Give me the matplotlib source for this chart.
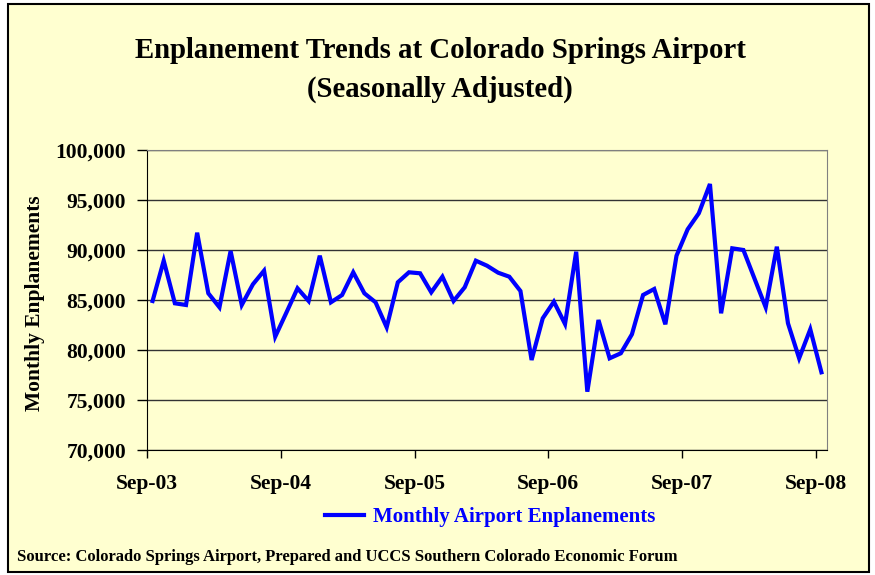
import matplotlib.pyplot as plt
from matplotlib.patches import Rectangle
from matplotlib.ticker import FuncFormatter

# monthly, Sep-03 .. Sep-08 (61 months)
enplanements = [
    84900, 88930, 84670, 84500, 91730, 85670, 84270, 89900, 84500, 86570,
    87930, 81330, 83730, 86170, 84900, 89430, 84770, 85500, 87770, 85670,
    84770, 82270, 86770, 87770, 87670, 85770, 87330, 84900, 86270, 88930,
    88430, 87730, 87330, 85900, 79000, 83170, 84830, 82600, 89830, 75830,
    83000, 79170, 79670, 81570, 85500, 86100, 82570, 89430, 92070, 93670,
    96600, 83670, 90170, 90000, 87130, 84270, 90330, 82670, 79170, 82070,
    77770,
]
tick_labels = ["Sep-03", "Sep-04", "Sep-05", "Sep-06", "Sep-07", "Sep-08"]
y_ticks = [70000, 75000, 80000, 85000, 90000, 95000, 100000]

bg = "#FFFFD0"
font = "Liberation Serif"

fig = plt.figure(figsize=(8.75, 5.75), dpi=100)
fig.patch.set_facecolor("white")
fig.patches.append(Rectangle((8 / 875, 3 / 575), 861 / 875, 568 / 575,
                             transform=fig.transFigure, facecolor=bg,
                             edgecolor="black", linewidth=1.5, zorder=-10))

ax = fig.add_axes([147 / 875, 1 - 450 / 575, 680 / 875, 300 / 575])
ax.set_facecolor(bg)

x = [i + 0.5 for i in range(len(enplanements))]
line, = ax.plot(x, enplanements, color="#0000FF", linewidth=3,
                label="Monthly Airport Enplanements", solid_joinstyle="miter")

ax.set_xlim(0, len(enplanements))
ax.set_ylim(70000, 100000)
ax.set_yticks(y_ticks)
ax.yaxis.set_major_formatter(FuncFormatter(lambda v, p: f"{int(v):,}"))
ax.set_xticks(range(0, 61, 12))
ax.set_xticklabels(tick_labels)
ax.grid(axis="y", color="#333333", linewidth=1)
ax.set_axisbelow(True)

for lbl in ax.get_yticklabels() + ax.get_xticklabels():
    lbl.set_fontfamily(font)
    lbl.set_fontweight("bold")
    lbl.set_fontsize(15.5)
ax.tick_params(axis="y", direction="out", length=7, width=1, pad=8)
ax.tick_params(axis="x", direction="out", length=6, width=1, pad=11)

ax.spines["left"].set_color("black")
ax.spines["bottom"].set_color("black")
ax.spines["top"].set_color("#808080")
ax.spines["right"].set_color("#808080")

ax.set_ylabel("Monthly Enplanements", fontfamily=font, fontweight="bold",
              fontsize=15.5, va="center")
ax.yaxis.set_label_coords((35 - 147) / 680, 0.49)

fig.text(0.503, 1 - 50 / 575, "Enplanement Trends at Colorado Springs Airport",
         ha="center", va="center", fontfamily=font, fontweight="bold", fontsize=20.7)
fig.text(0.503, 1 - 89 / 575, "(Seasonally Adjusted)",
         ha="center", va="center", fontfamily=font, fontweight="bold", fontsize=20.7)

leg = fig.legend(handles=[line], loc="center", bbox_to_anchor=(490 / 875, 1 - 517 / 575),
                 frameon=False, handlelength=1.9, handletextpad=0.4,
                 prop={"family": font, "weight": "bold", "size": 15})
for t in leg.get_texts():
    t.set_color("#0000FF")

fig.text(17 / 875, 1 - 557 / 575,
         "Source: Colorado Springs Airport, Prepared and UCCS Southern Colorado Economic Forum",
         ha="left", va="center", fontfamily=font, fontweight="bold", fontsize=12)

fig.savefig("out.png", dpi=100, facecolor=fig.get_facecolor())
